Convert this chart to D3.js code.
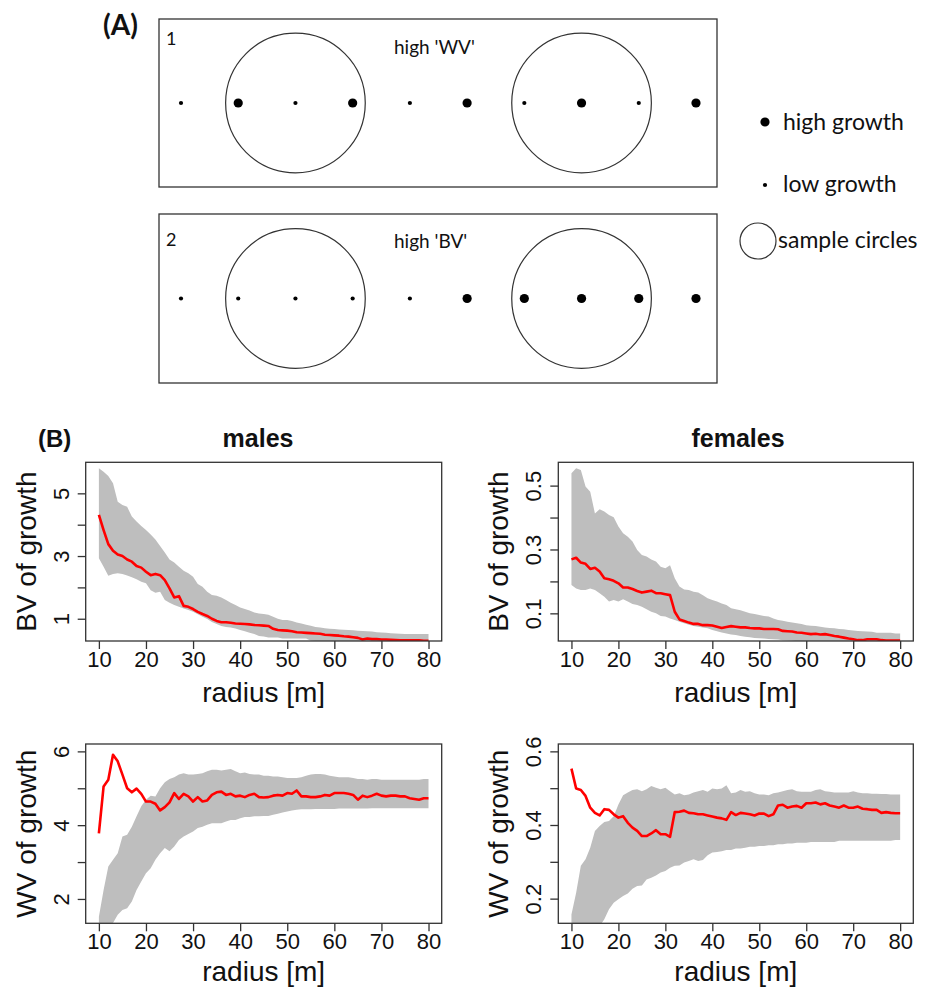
<!DOCTYPE html>
<html lang="en">
<head>
<meta charset="utf-8">
<script src="https://d3js.org/d3.v7.min.js"></script>
<title>Growth variance and sample radius</title>
<style>
  body { margin:0; background:#fff; }
  .r-text { font-family:"Liberation Sans", Arial, sans-serif; fill:#111; }
  .a-text { font-family:Lato, "Open Sans", sans-serif; fill:#111; }
  .box { fill:none; stroke:#333; stroke-width:1.3px; }
  .band { fill:#bebebe; stroke:none; }
  .obs { fill:none; stroke:#ff0000; stroke-width:2.6px; stroke-linejoin:round; }
</style>
</head>
<body>
<script>
// ---- panel A: schematic ----
var treePos  = [1, 2, 3, 4, 5, 6, 7, 8, 9, 10];
var growthWV = ["low","high","low","high","low","high","low","high","low","high"];
var growthBV = ["low","low","low","low","low","high","high","high","high","high"];
var circleAt = [3, 8];
var circleRadius = 1.22;   // in tree spacings

// ---- panel B: data (radius in m) ----
var radius = [10,11,12,13,14,15,16,17,18,19,20,21,22,23,24,25,26,27,28,29,
  30,31,32,33,34,35,36,37,38,39,40,41,42,43,44,45,46,47,48,49,
  50,51,52,53,54,55,56,57,58,59,60,61,62,63,64,65,66,67,68,69,
  70,71,72,73,74,75,76,77,78,79,80];
var xTicks = [10,20,30,40,50,60,70,80];

var maleBvObs = [4.31,3.83,3.38,3.17,3.05,3.00,2.89,2.82,2.68,2.63,
  2.50,2.39,2.43,2.39,2.23,1.97,1.68,1.72,1.41,1.38,
  1.31,1.22,1.15,1.09,1.00,0.93,0.89,0.89,0.87,0.85,
  0.84,0.83,0.82,0.80,0.79,0.78,0.77,0.68,0.64,0.63,
  0.62,0.60,0.57,0.56,0.55,0.54,0.53,0.52,0.49,0.48,
  0.47,0.46,0.44,0.43,0.41,0.39,0.34,0.37,0.35,0.35,
  0.34,0.34,0.33,0.32,0.31,0.31,0.31,0.31,0.31,0.30,0.30];
var maleBvHi = [5.80,5.69,5.55,5.32,4.73,4.63,4.57,4.26,4.10,3.96,
  3.83,3.69,3.53,3.32,3.11,2.89,2.79,2.66,2.53,2.45,
  2.34,2.11,2.02,1.86,1.76,1.73,1.68,1.60,1.51,1.44,
  1.36,1.31,1.26,1.20,1.17,1.15,1.13,1.06,1.00,0.96,
  0.96,0.93,0.88,0.85,0.81,0.78,0.74,0.72,0.70,0.68,
  0.67,0.66,0.65,0.64,0.63,0.62,0.61,0.60,0.59,0.57,
  0.56,0.55,0.54,0.53,0.52,0.51,0.51,0.51,0.51,0.51,0.51];
var maleBvLo = [2.93,2.66,2.37,2.43,2.45,2.43,2.38,2.32,2.26,2.18,
  2.13,1.91,1.83,1.86,1.60,1.51,1.44,1.38,1.33,1.28,
  1.22,1.14,1.06,0.99,0.90,0.83,0.77,0.74,0.72,0.69,
  0.64,0.60,0.55,0.51,0.45,0.43,0.40,0.40,0.40,0.37,
  0.37,0.37,0.37,0.37,0.37,0.30,0.29,0.28,0.28,0.27,
  0.27,0.26,0.26,0.25,0.25,0.24,0.24,0.23,0.23,0.22,
  0.22,0.22,0.21,0.21,0.21,0.20,0.20,0.20,0.20,0.20,0.20];

var femaleBvObs = [0.269,0.274,0.259,0.255,0.239,0.243,0.231,0.210,0.207,0.202,
  0.194,0.181,0.181,0.176,0.170,0.165,0.168,0.171,0.163,0.163,
  0.160,0.157,0.105,0.081,0.076,0.071,0.067,0.067,0.063,0.063,
  0.062,0.058,0.054,0.057,0.060,0.058,0.056,0.056,0.054,0.053,
  0.053,0.051,0.051,0.051,0.050,0.045,0.044,0.043,0.040,0.039,
  0.037,0.035,0.036,0.034,0.035,0.032,0.029,0.027,0.024,0.021,
  0.019,0.016,0.016,0.019,0.019,0.019,0.016,0.015,0.015,0.015,0.015];
var femaleBvHi = [0.539,0.554,0.549,0.497,0.481,0.413,0.426,0.419,0.408,0.401,
  0.372,0.351,0.340,0.325,0.298,0.283,0.278,0.269,0.262,0.246,
  0.241,0.251,0.210,0.184,0.175,0.173,0.168,0.165,0.157,0.147,
  0.142,0.137,0.131,0.126,0.116,0.113,0.110,0.105,0.100,0.098,
  0.095,0.092,0.090,0.084,0.079,0.077,0.074,0.071,0.069,0.067,
  0.063,0.061,0.060,0.058,0.056,0.054,0.053,0.051,0.050,0.048,
  0.046,0.045,0.044,0.043,0.042,0.039,0.039,0.039,0.039,0.037,0.037];
var femaleBvLo = [0.189,0.178,0.173,0.173,0.178,0.173,0.163,0.152,0.137,0.142,
  0.137,0.144,0.137,0.129,0.126,0.121,0.113,0.105,0.100,0.092,
  0.090,0.084,0.079,0.074,0.069,0.064,0.060,0.058,0.056,0.053,
  0.048,0.044,0.040,0.037,0.034,0.032,0.029,0.027,0.025,0.023,
  0.022,0.021,0.020,0.019,0.018,0.016,0.015,0.014,0.013,0.012,
  0.012,0.011,0.011,0.010,0.010,0.010,0.009,0.009,0.009,0.008,
  0.008,0.008,0.008,0.008,0.008,0.007,0.007,0.007,0.007,0.007,0.007];

var maleWvObs = [3.78,5.05,5.23,5.91,5.73,5.37,5.00,4.89,4.99,4.85,
  4.64,4.64,4.58,4.40,4.49,4.62,4.87,4.71,4.85,4.78,
  4.64,4.76,4.64,4.67,4.82,4.89,4.91,4.82,4.85,4.78,
  4.80,4.76,4.82,4.85,4.76,4.75,4.76,4.80,4.82,4.80,
  4.87,4.85,4.94,4.78,4.78,4.76,4.76,4.78,4.82,4.80,
  4.87,4.87,4.87,4.85,4.82,4.69,4.80,4.76,4.80,4.85,
  4.80,4.78,4.80,4.80,4.78,4.78,4.73,4.71,4.69,4.73,4.73];
var maleWvHi = [1.52,2.24,2.88,3.06,3.24,3.69,3.74,3.96,4.24,4.51,
  4.69,4.80,4.78,5.00,5.16,5.25,5.30,5.37,5.41,5.37,
  5.37,5.39,5.41,5.46,5.50,5.50,5.48,5.50,5.52,5.46,
  5.41,5.43,5.39,5.37,5.37,5.34,5.34,5.32,5.32,5.30,
  5.28,5.28,5.28,5.30,5.34,5.37,5.39,5.39,5.37,5.34,
  5.32,5.30,5.30,5.30,5.28,5.25,5.25,5.23,5.25,5.25,
  5.23,5.23,5.23,5.23,5.23,5.23,5.23,5.23,5.23,5.25,5.25];
var maleWvLo = [0.90,1.10,1.20,1.35,1.57,1.70,1.75,1.93,2.24,2.47,
  2.70,2.83,3.06,3.24,3.38,3.29,3.42,3.60,3.69,3.76,
  3.83,3.92,3.96,4.01,4.05,4.05,4.05,4.10,4.14,4.14,
  4.19,4.22,4.22,4.24,4.24,4.25,4.25,4.28,4.31,4.34,
  4.37,4.40,4.42,4.43,4.43,4.43,4.44,4.44,4.44,4.44,
  4.44,4.45,4.45,4.45,4.45,4.45,4.45,4.45,4.46,4.46,
  4.46,4.46,4.46,4.46,4.46,4.46,4.46,4.46,4.46,4.46,4.46];

var femaleWvObs = [0.553,0.499,0.495,0.479,0.447,0.433,0.426,0.443,0.441,0.429,
  0.420,0.424,0.406,0.393,0.384,0.370,0.370,0.377,0.386,0.375,
  0.375,0.368,0.435,0.436,0.439,0.433,0.432,0.429,0.429,0.426,
  0.423,0.420,0.418,0.414,0.435,0.427,0.433,0.431,0.429,0.426,
  0.431,0.431,0.424,0.429,0.453,0.455,0.447,0.450,0.452,0.447,
  0.459,0.459,0.461,0.456,0.459,0.453,0.450,0.447,0.453,0.447,
  0.447,0.450,0.444,0.443,0.441,0.441,0.433,0.435,0.433,0.432,0.432];
var femaleWvHi = [0.157,0.216,0.289,0.307,0.338,0.384,0.397,0.408,0.411,0.424,
  0.456,0.481,0.488,0.495,0.497,0.492,0.497,0.506,0.501,0.497,
  0.501,0.492,0.483,0.486,0.481,0.483,0.488,0.492,0.495,0.490,
  0.499,0.497,0.499,0.508,0.486,0.488,0.495,0.490,0.492,0.486,
  0.483,0.483,0.481,0.486,0.488,0.492,0.495,0.497,0.492,0.490,
  0.490,0.490,0.495,0.497,0.492,0.490,0.488,0.488,0.488,0.488,
  0.492,0.488,0.486,0.486,0.485,0.485,0.484,0.484,0.483,0.483,0.483];
var femaleWvLo = [0.020,0.040,0.060,0.080,0.100,0.110,0.125,0.144,0.171,0.189,
  0.198,0.207,0.214,0.227,0.234,0.236,0.252,0.257,0.263,0.271,
  0.275,0.284,0.289,0.290,0.298,0.302,0.307,0.302,0.305,0.318,
  0.325,0.327,0.329,0.332,0.332,0.336,0.336,0.338,0.341,0.341,
  0.343,0.343,0.345,0.345,0.348,0.348,0.350,0.350,0.352,0.352,
  0.352,0.354,0.354,0.354,0.354,0.354,0.354,0.357,0.357,0.357,
  0.357,0.357,0.357,0.357,0.357,0.357,0.357,0.357,0.357,0.359,0.359];

var width = 927, height = 988;

var svg = d3.select("body").append("svg")
  .attr("width", width)
  .attr("height", height);

// ================= (A) =================
svg.append("text").attr("class","a-text")
  .attr("x",103).attr("y",35)
  .style("font-size","28px").style("font-weight","bold")
  .text("(A)");

var xa = d3.scaleLinear().domain([1,10]).range([181,696]);
var rDot = {high:4.6, low:2.1};

var rows = [
  {num:"1", title:"high 'WV'", growth:growthWV, top:19, bottom:187, numY:45, titleY:54},
  {num:"2", title:"high 'BV'", growth:growthBV, top:214, bottom:383, numY:246, titleY:248}
];

rows.forEach(function(row){
  var g = svg.append("g");
  var cy = (row.top + row.bottom)/2;
  g.append("rect").attr("class","box")
    .attr("x",159).attr("y",row.top)
    .attr("width",717-159).attr("height",row.bottom-row.top);
  g.selectAll(".samp").data(circleAt).enter().append("circle")
    .attr("cx",function(d){ return xa(d); })
    .attr("cy",cy)
    .attr("r",function(d){ return xa(d+circleRadius)-xa(d); })
    .attr("fill","none").attr("stroke","#333").attr("stroke-width",1.2);
  g.selectAll(".tree").data(treePos).enter().append("circle")
    .attr("cx",function(d){ return xa(d); })
    .attr("cy",cy)
    .attr("r",function(d,i){ return rDot[row.growth[i]]; })
    .attr("fill","#000");
  g.append("text").attr("class","a-text")
    .attr("x",166).attr("y",row.numY)
    .style("font-size","18px").text(row.num);
  g.append("text").attr("class","a-text")
    .attr("x",394).attr("y",row.titleY)
    .style("font-size","19px").text(row.title);
});

// legend
var leg = svg.append("g");
leg.append("circle").attr("cx",765).attr("cy",122).attr("r",rDot.high).attr("fill","#000");
leg.append("text").attr("class","a-text").attr("x",783).attr("y",130)
  .style("font-size","23px").text("high growth");
leg.append("circle").attr("cx",765).attr("cy",185).attr("r",rDot.low).attr("fill","#000");
leg.append("text").attr("class","a-text").attr("x",783).attr("y",192)
  .style("font-size","23px").text("low growth");
leg.append("circle").attr("cx",758).attr("cy",241).attr("r",18)
  .attr("fill","none").attr("stroke","#333").attr("stroke-width",1.2);
leg.append("text").attr("class","a-text").attr("x",778).attr("y",248)
  .style("font-size","23px").text("sample circles");

// ================= (B) =================
svg.append("text").attr("class","r-text")
  .attr("x",38).attr("y",447)
  .style("font-size","24px").style("font-weight","bold")
  .text("(B)");
[{t:"males", x:258}, {t:"females", x:738}].forEach(function(h){
  svg.append("text").attr("class","r-text")
    .attr("x",h.x).attr("y",447).attr("text-anchor","middle")
    .style("font-size","25px").style("font-weight","bold")
    .text(h.t);
});

var panels = [
  {id:"mbv", box:[85.7,462.3,441.7,641], yDomain:[0.29,5.99], yTicks:[1,2,3,4,5], yLab:[1,3,5],
   ylab:"BV of growth", obs:maleBvObs, lo:maleBvLo, hi:maleBvHi, fmt:d3.format("d"), titleDy:61},
  {id:"fbv", box:[558.3,462.3,913.3,641], yDomain:[0.0134,0.573], yTicks:[0.1,0.2,0.3,0.4,0.5], yLab:[0.1,0.3,0.5],
   ylab:"BV of growth", obs:femaleBvObs, lo:femaleBvLo, hi:femaleBvHi, fmt:d3.format(".1f"), titleDy:61},
  {id:"mwv", box:[85.7,744,441.7,923.3], yDomain:[1.34,6.2], yTicks:[2,3,4,5,6], yLab:[2,4,6],
   ylab:"WV of growth", obs:maleWvObs, lo:maleWvLo, hi:maleWvHi, fmt:d3.format("d"), titleDy:58},
  {id:"fwv", box:[558.3,744,913.3,923.3], yDomain:[0.133,0.62], yTicks:[0.2,0.3,0.4,0.5,0.6], yLab:[0.2,0.4,0.6],
   ylab:"WV of growth", obs:femaleWvObs, lo:femaleWvLo, hi:femaleWvHi, fmt:d3.format(".1f"), titleDy:58}
];

var defs = svg.append("defs");

panels.forEach(function(p){
  var x0 = p.box[0], y0 = p.box[1], x1 = p.box[2], y1 = p.box[3];
  // R style: 4% padding around 10..80
  var x = d3.scaleLinear().domain([7.2, 82.8]).range([x0, x1]);
  var y = d3.scaleLinear().domain(p.yDomain).range([y1, y0]);

  defs.append("clipPath").attr("id","clip-"+p.id)
    .append("rect").attr("x",x0).attr("y",y0).attr("width",x1-x0).attr("height",y1-y0);

  var g = svg.append("g");
  var plot = g.append("g").attr("clip-path","url(#clip-"+p.id+")");

  var area = d3.area()
    .x(function(d,i){ return x(radius[i]); })
    .y0(function(d,i){ return y(p.lo[i]); })
    .y1(function(d,i){ return y(p.hi[i]); });
  plot.append("path").attr("class","band").attr("d", area(radius));

  var line = d3.line()
    .x(function(d,i){ return x(radius[i]); })
    .y(function(d){ return y(d); });
  plot.append("path").attr("class","obs").attr("d", line(p.obs));

  g.append("rect").attr("class","box")
    .attr("x",x0).attr("y",y0).attr("width",x1-x0).attr("height",y1-y0);

  // x axis
  var ax = g.append("g").attr("transform","translate(0,"+y1+")")
    .call(d3.axisBottom(x).tickValues(xTicks).tickSize(8).tickFormat(d3.format("d")));
  ax.select(".domain").remove();
  ax.selectAll(".tick line").attr("stroke","#333").attr("stroke-width",1.3);
  ax.selectAll(".tick text").attr("class","r-text")
    .attr("y",26).attr("dy",null)
    .style("font-size","22px").attr("fill","#111");
  ax.attr("font-family",null).attr("font-size",null);

  // y axis (labels parallel to axis)
  var ay = g.append("g").attr("transform","translate("+x0+",0)")
    .call(d3.axisLeft(y).tickValues(p.yTicks).tickSize(8)
      .tickFormat(function(d){ return p.yLab.indexOf(d) >= 0 ? p.fmt(d) : ""; }));
  ay.select(".domain").remove();
  ay.selectAll(".tick line").attr("stroke","#333").attr("stroke-width",1.3);
  ay.selectAll(".tick text").attr("class","r-text")
    .attr("x",null).attr("dy",null)
    .attr("text-anchor","middle")
    .attr("transform","translate(-17,0) rotate(-90)")
    .style("font-size","22px").attr("fill","#111");
  ay.attr("font-family",null).attr("font-size",null);

  g.append("text").attr("class","r-text")
    .attr("x",(x0+x1)/2).attr("y",y1+p.titleDy).attr("text-anchor","middle")
    .style("font-size","28px").text("radius [m]");
  g.append("text").attr("class","r-text")
    .attr("transform","translate("+(x0-50)+","+((y0+y1)/2)+") rotate(-90)")
    .attr("text-anchor","middle")
    .style("font-size","28px").text(p.ylab);
});
</script>
</body>
</html>
